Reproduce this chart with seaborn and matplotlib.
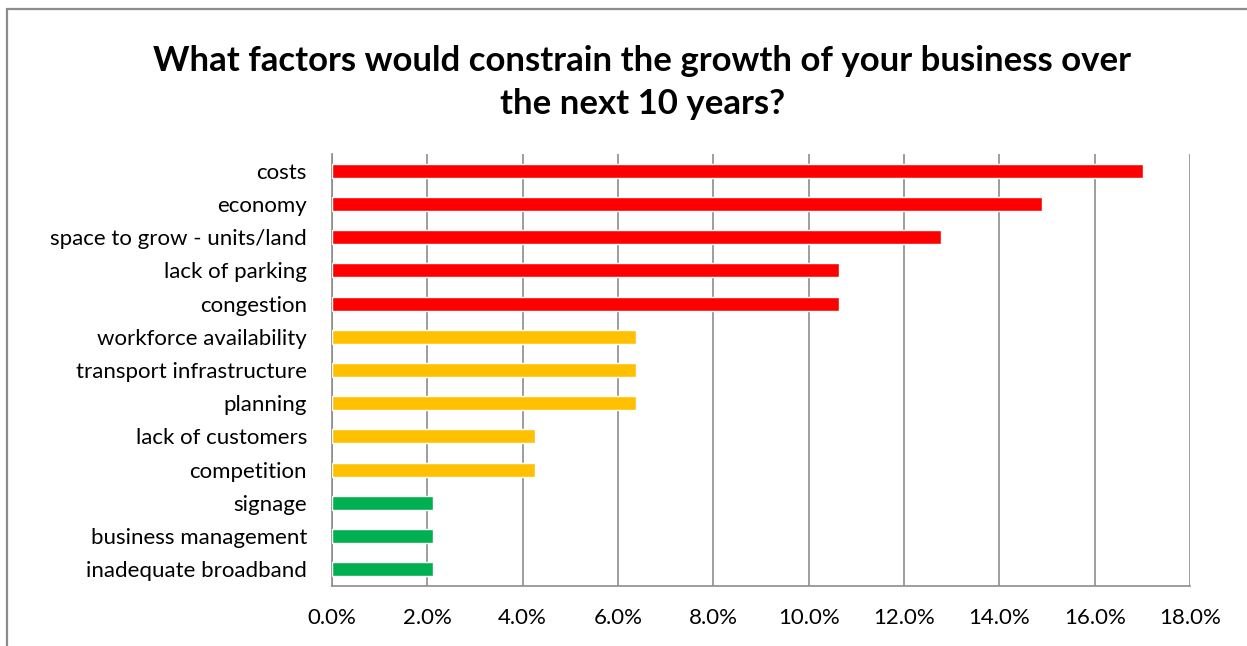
import matplotlib
matplotlib.use("Agg")
import matplotlib.pyplot as plt
import matplotlib.patches as mpatches
from matplotlib.ticker import FuncFormatter, MultipleLocator
import seaborn as sns
import pandas as pd

factors = [
    "costs", "economy", "space to grow - units/land", "lack of parking",
    "congestion", "workforce availability", "transport infrastructure",
    "planning", "lack of customers", "competition", "signage",
    "business management", "inadequate broadband",
]
shares = [17.02, 14.89, 12.77, 10.64, 10.64, 6.38, 6.38, 6.38, 4.26, 4.26, 2.13, 2.13, 2.13]
levels = ["high"] * 5 + ["medium"] * 5 + ["low"] * 3
level_colors = {"high": "#FF0000", "medium": "#FFC000", "low": "#00B050"}
title = "What factors would constrain the growth of your business over\nthe next 10 years?"

df = pd.DataFrame({"factor": factors, "share": shares, "level": levels})

sns.set_style("white")
plt.rcParams["font.family"] = ["Lato", "DejaVu Sans"]
plt.rcParams["text.color"] = "black"
plt.rcParams["xtick.color"] = "black"
plt.rcParams["ytick.color"] = "black"

fig = plt.figure(figsize=(12.47, 6.46), dpi=100)
ax = fig.add_axes([0.2662, 0.0929, 0.9543 - 0.2662, 0.7616 - 0.0929])

sns.barplot(data=df, y="factor", x="share", hue="level", palette=level_colors,
            order=factors, dodge=False, width=0.42, legend=False, ax=ax,
            saturation=1, zorder=3)

ax.set_xlim(0, 18)
ax.xaxis.set_major_locator(MultipleLocator(2))
ax.xaxis.set_major_formatter(FuncFormatter(lambda v, _: f"{v:.1f}%"))
ax.set_xlabel("")
ax.set_ylabel("")
ax.grid(axis="x", color="#8C8C8C", linewidth=1.2, zorder=0)
ax.grid(axis="y", visible=False)
ax.set_axisbelow(True)

for side in ["top", "right"]:
    ax.spines[side].set_visible(False)
for side in ["left", "bottom"]:
    ax.spines[side].set_color("#8C8C8C")
    ax.spines[side].set_linewidth(1.2)

ax.tick_params(axis="y", length=0, pad=18, labelsize=16, labelcolor="black")
ax.tick_params(axis="x", length=0, pad=16, labelsize=16, labelcolor="black")

fig.text(0.515, 0.931, title, ha="center", va="top", fontsize=25,
         fontweight="bold", linespacing=1.45, color="black")

# outer chart frame
fig.patches.append(mpatches.Rectangle((7 / 1247, -0.1), 1.2, (646 - 9) / 646 + 0.1,
                                      transform=fig.transFigure, fill=False,
                                      edgecolor="#8C8C8C", linewidth=1.6))

fig.savefig("out.png", dpi=100)
